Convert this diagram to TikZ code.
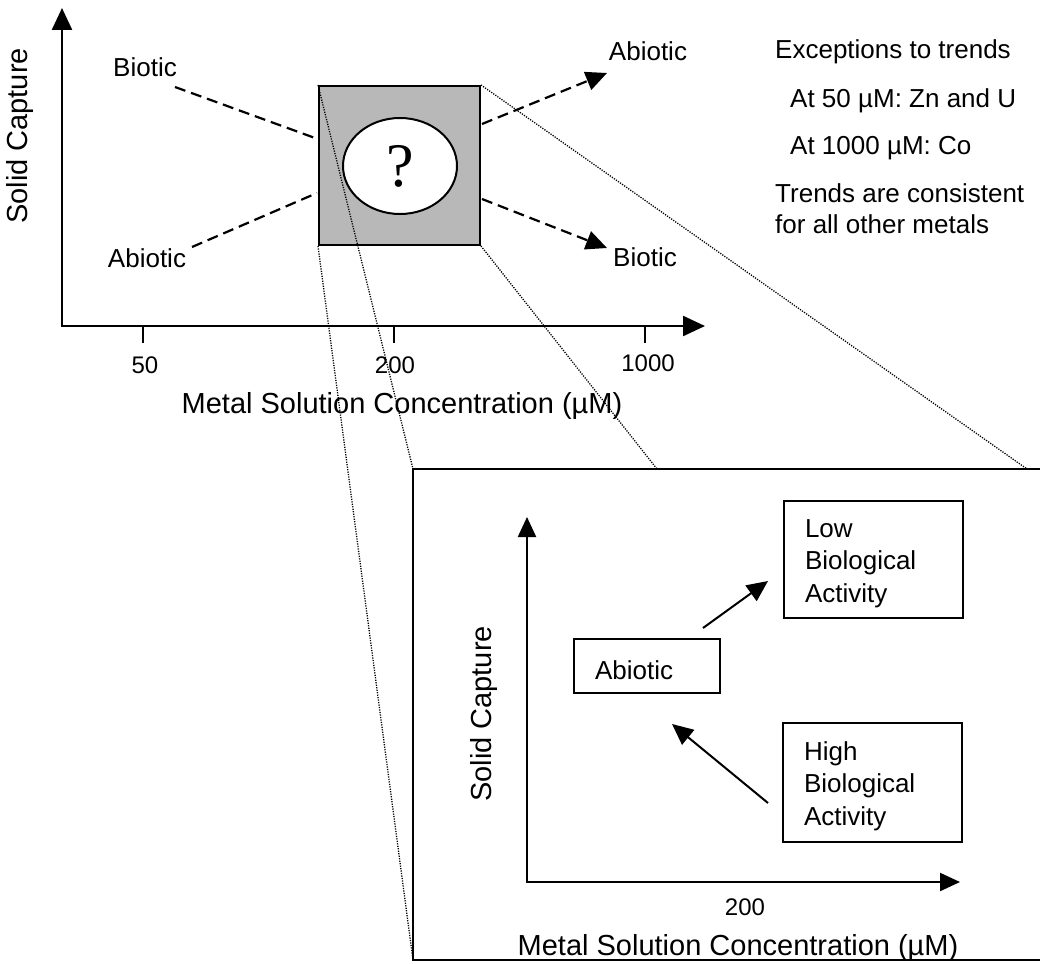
\documentclass[tikz,border=0pt]{standalone}
\usepackage{fontspec}
\setmainfont{Liberation Sans}
\newfontfamily\qfont{Liberation Serif}
\usetikzlibrary{arrows.meta,shapes.geometric}
\begin{document}
\begin{tikzpicture}[x=1pt,y=-1pt,
  axes/.style={line width=2.4pt, {Triangle[length=22pt,width=20pt]}-{Triangle[length=22pt,width=20pt]}},
  inaxes/.style={line width=2.2pt, {Triangle[length=20pt,width=18pt]}-{Triangle[length=20pt,width=18pt]}},
  tickmark/.style={line width=2pt},
  dashline/.style={line width=2.2pt, dash pattern=on 11pt off 6pt},
  dasharrow/.style={dashline, -{Triangle[length=21pt,width=19pt]}},
  zoomline/.style={line width=1.3pt, dash pattern=on 1.2pt off 1.3pt},
  lbl/.style={inner sep=0pt, font=\fontsize{26}{31}\selectfont},
  ticklbl/.style={inner sep=0pt, font=\fontsize{24}{29}\selectfont},
  axtitle/.style={inner sep=0pt, font=\fontsize{29}{35}\selectfont},
  note/.style={inner sep=0pt, anchor=base west, font=\fontsize{26}{31}\selectfont},
  boxnode/.style={draw, line width=2pt, inner xsep=21pt, inner ysep=0pt, align=left, font=\fontsize{26}{32.5}\selectfont},
  solidarrow/.style={line width=2pt, -{Triangle[length=21pt,width=19pt]}},
]
\useasboundingbox (0,0) rectangle (1040,963);

% ---------- main chart ----------
\coordinate (O) at (62,326);
\coordinate (Ytip) at (62,8);
\coordinate (Xtip) at (705,326);
\draw[axes] (Ytip) -- (O) -- (Xtip);
\draw[tickmark] (143,326) -- (143,343);
\draw[tickmark] (394,326) -- (394,343);
\draw[tickmark] (645,326) -- (645,343);
\node[ticklbl] (t50) at (145,365) {50};
\node[ticklbl] (t200) at (395,365) {200};
\node[ticklbl] (t1000) at (648,363) {1000};
\node[axtitle] (xtitle) at (402,406) {Metal Solution Concentration (µM)};
\node[axtitle, rotate=90] (ytitle) at (20,136) {Solid Capture};

\node[lbl] (bioTL) at (145,67) {Biotic};
\node[lbl] (abioBL) at (147,258) {Abiotic};
\node[lbl] (abioTR) at (648,51) {Abiotic};
\node[lbl] (bioBR) at (645,257) {Biotic};

\node[draw, fill=black!28, line width=2pt, minimum width=161pt, minimum height=159pt, inner sep=0pt] (sq) at (399.5,165.5) {};
\node[ellipse, draw, fill=white, line width=2pt, minimum width=114pt, minimum height=96pt, inner sep=0pt, font=\qfont\fontsize{62}{62}\selectfont] (ell) at (400,166) {?};

\coordinate (d1a) at (175,87);  \coordinate (d1b) at (315,138);
\coordinate (d2a) at (192,247); \coordinate (d2b) at (317,193);
\coordinate (d3a) at (482,124); \coordinate (d3b) at (607,73);
\coordinate (d4a) at (482,199); \coordinate (d4b) at (607,248);
\draw[dashline] (d1a) -- (d1b);
\draw[dashline] (d2a) -- (d2b);
\draw[dasharrow] (d3a) -- (d3b);
\draw[dasharrow] (d4a) -- (d4b);

% ---------- exceptions text ----------
\node[note] (n1) at (775,59) {Exceptions to trends};
\node[note] (n2) at (790,107) {At 50 µM: Zn and U};
\node[note] (n3) at (790,154) {At 1000 µM: Co};
\node[note] (n4) at (775,202) {Trends are consistent};
\node[note] (n5) at (775,233) {for all other metals};

% ---------- zoom panel ----------
\coordinate (PTL) at (413,469);
\coordinate (PBL) at (413,960);
\coordinate (PTR) at (1041,469);
\coordinate (PBR) at (1041,960);
\draw[line width=2pt] (PTR) -- (PTL) -- (PBL) -- (PBR);
\coordinate (zc) at (657,469);
\coordinate (zd) at (1027,469);
\draw[zoomline] (sq.north west) -- (PTL);
\draw[zoomline] (sq.south west) -- (PBL);
\draw[zoomline] (sq.south east) -- (zc);
\draw[zoomline] (sq.north east) -- (zd);

\coordinate (iO) at (527,882);
\coordinate (iY) at (527,517);
\coordinate (iX) at (960,882);
\draw[inaxes] (iY) -- (iO) -- (iX);
\node[ticklbl] (i200) at (745,907) {200};
\node[axtitle] (ixtitle) at (738,948) {Metal Solution Concentration (µM)};
\node[axtitle, rotate=90] (iytitle) at (484,714) {Solid Capture};

\node[boxnode, text width=137pt, minimum height=117pt] (low) at (873.5,559.5) {\rule{0pt}{26pt}Low\\Biological\\Activity};
\node[boxnode, text width=137pt, minimum height=119pt] (high) at (872.5,782.5) {\rule{0pt}{26pt}High\\Biological\\Activity};
\node[boxnode, text width=104pt, minimum height=54pt, text height=27pt, text depth=0pt] (abio) at (647,666) {Abiotic};

\coordinate (a1s) at (703,628); \coordinate (a1e) at (768,581);
\coordinate (a2s) at (768,803); \coordinate (a2e) at (672,724);
\draw[solidarrow] (a1s) -- (a1e);
\draw[solidarrow] (a2s) -- (a2e);
\end{tikzpicture}
\end{document}
